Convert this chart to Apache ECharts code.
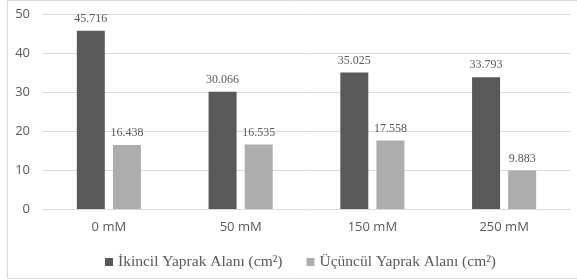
<!DOCTYPE html>
<html>
<head>
<meta charset="utf-8">
<script src="https://cdn.jsdelivr.net/npm/echarts@6/dist/echarts.min.js"></script>
<style>
  html, body { margin: 0; padding: 0; background: #fff; }
  #chart { width: 577px; height: 280px; }
</style>
</head>
<body>
<div id="chart"></div>
<script>
// categories and values
var categories = ['0 mM', '50 mM', '150 mM', '250 mM'];
var ikincil = [45.716, 30.066, 35.025, 33.793];   // secondary leaf area
var ucuncul = [16.438, 16.535, 17.558, 9.883];    // tertiary leaf area
var seriesNames = ['İkincil Yaprak Alanı (cm²)', 'Üçüncül Yaprak Alanı (cm²)'];

var chart = echarts.init(document.getElementById('chart'));

var labelStyle = {
    show: true,
    position: 'top',
    distance: 6,
    fontFamily: 'Liberation Serif',
    fontSize: 12,
    color: '#595959',
    formatter: function (p) { return p.value.toFixed(3); }
};

var option = {
    animation: false,
    graphic: [{   // thin frame round the whole chart
        type: 'rect',
        shape: { x: 7.5, y: 0.5, width: 575, height: 278 },
        style: { fill: 'none', stroke: '#d9d9d9', lineWidth: 1 }
    }],
    grid: { left: 43, right: 7, top: 14, bottom: 71 },
    legend: {
        bottom: 5,
        left: 100,
        itemWidth: 8,
        itemHeight: 8,
        itemGap: 24,
        icon: 'rect',
        textStyle: { fontFamily: 'Liberation Serif', fontSize: 15.5, color: '#595959' },
        data: seriesNames
    },
    xAxis: {
        type: 'category',
        data: categories,
        axisLine: { lineStyle: { color: '#d9d9d9' } },
        axisTick: { show: false },
        axisLabel: { margin: 12, fontFamily: 'Open Sans', fontSize: 13, color: '#595959' }
    },
    yAxis: {
        type: 'value',
        min: 0,
        max: 50,
        interval: 10,
        axisLine: { show: false },
        axisTick: { show: false },
        splitLine: { lineStyle: { color: '#d9d9d9' } },
        axisLabel: { margin: 13, fontFamily: 'Open Sans', fontSize: 13, color: '#595959' }
    },
    series: [
        {
            name: seriesNames[0],
            type: 'bar',
            data: ikincil,
            barWidth: 28,
            barGap: '29%',
            itemStyle: { color: '#595959' },
            label: labelStyle
        },
        {
            name: seriesNames[1],
            type: 'bar',
            data: ucuncul,
            barWidth: 28,
            itemStyle: { color: '#adadad' },
            label: labelStyle
        }
    ]
};
chart.setOption(option);
</script>
</body>
</html>
